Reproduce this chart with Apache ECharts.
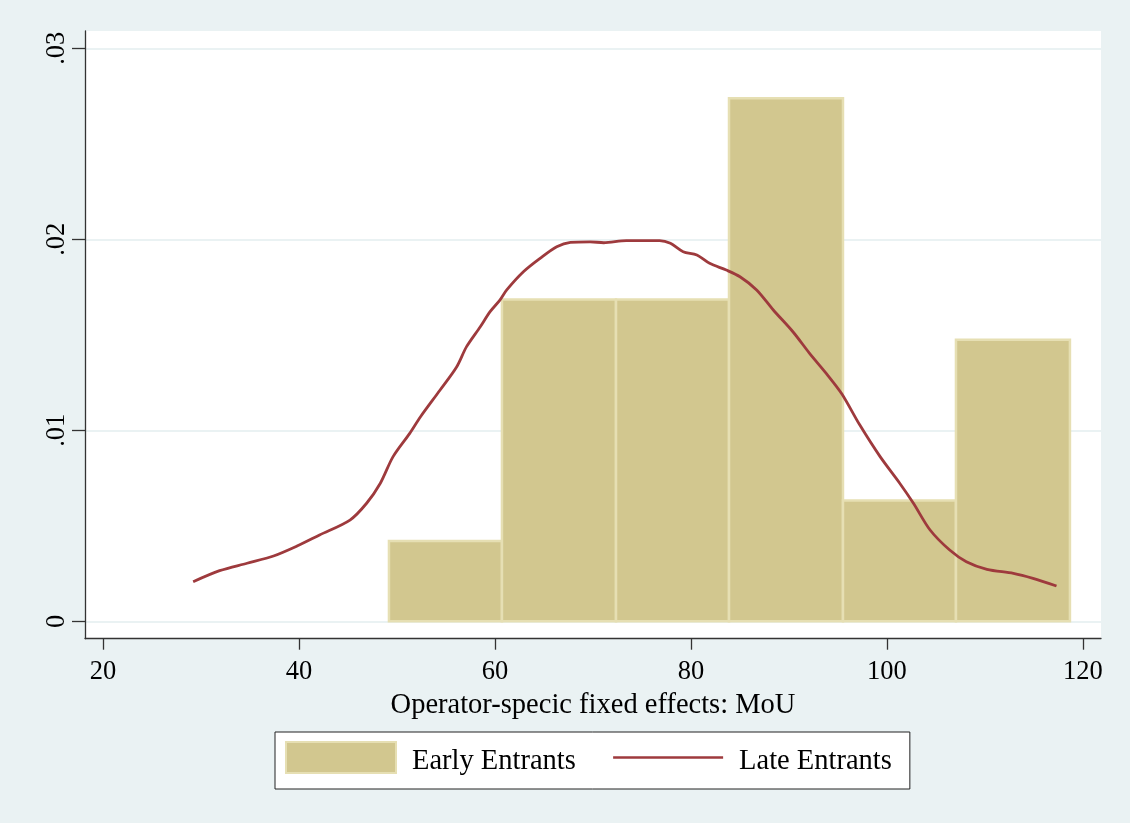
<!DOCTYPE html>
<html>
<head>
<meta charset="utf-8">
<script src="https://cdn.jsdelivr.net/npm/echarts@6/dist/echarts.min.js"></script>
<style>
  html, body { margin: 0; padding: 0; background: #eaf2f3; }
  #chart { width: 1130px; height: 823px; }
</style>
</head>
<body>
<div id="chart"></div>
<script>
// Histogram bins (Early Entrants): left edge, right edge, density
const binEdges = [49.18, 60.71, 72.35, 83.88, 95.51, 107.04, 118.67];
const binDensity = [0.00421, 0.01685, 0.01685, 0.02738, 0.00632, 0.01474];

// Kernel density (Late Entrants): x values and densities
const kdeX = [29.2, 31.9, 34.7, 37.4, 39.8, 42.1, 45.2, 46.9, 48.3, 49.6, 51.3, 52.4, 54.4, 56.1, 57.1, 58.5, 59.5, 60.5, 61.2, 62.9, 64.6, 66.3, 67.7, 69.7, 71.1, 73.4, 76.8, 77.9, 79.2, 80.6, 81.9, 83.6, 85.0, 86.7, 88.4, 90.4, 92.1, 93.8, 95.4, 97.2, 99.3, 101.3, 102.7, 104.4, 106.4, 108.1, 110.2, 112.9, 114.9, 117.3];
const kdeY = [0.00207, 0.00265, 0.00304, 0.00342, 0.00394, 0.00452, 0.0053, 0.00618, 0.00723, 0.00862, 0.00984, 0.01071, 0.01211, 0.01333, 0.01438, 0.01542, 0.01621, 0.01682, 0.01735, 0.0183, 0.019, 0.01961, 0.01984, 0.01987, 0.01982, 0.01993, 0.01993, 0.01979, 0.01935, 0.01918, 0.01874, 0.01839, 0.01804, 0.01735, 0.0163, 0.01516, 0.01403, 0.01298, 0.0119, 0.0103, 0.00862, 0.00723, 0.00618, 0.00478, 0.00373, 0.00312, 0.00272, 0.00251, 0.00225, 0.00185];

const xTicks = [20, 40, 60, 80, 100, 120];
const yTicks = [0, 0.01, 0.02, 0.03];
const yTickLabels = ['0', '.01', '.02', '.03'];

const barData = binDensity.map((d, i) => [binEdges[i], binEdges[i + 1], d]);
const lineData = kdeX.map((x, i) => [x, kdeY[i]]);

const FONT = '"Liberation Serif", "Times New Roman", serif';
const BAR_FILL = '#d2c78f';
const BAR_EDGE = '#e6dfb3';
const LINE_COLOR = '#9e3a3d';

const chart = echarts.init(document.getElementById('chart'), null, { renderer: 'canvas' });
chart.setOption({
  backgroundColor: '#eaf2f3',
  animation: false,
  textStyle: { fontFamily: FONT, color: '#000' },
  grid: {
    left: 85, right: 29, top: 31, bottom: 184.3,
    show: true, backgroundColor: '#ffffff', borderWidth: 0
  },
  xAxis: {
    type: 'value',
    min: 18.163, max: 121.84,
    name: 'Operator-specic fixed effects: MoU',
    nameLocation: 'middle',
    nameGap: 47,
    nameTextStyle: { fontFamily: FONT, fontSize: 28.5, color: '#000' },
    axisLine: { show: true, onZero: false, lineStyle: { color: '#333', width: 1.3 } },
    axisTick: { show: true, length: 11, customValues: xTicks, lineStyle: { color: '#333', width: 1.3 } },
    axisLabel: { customValues: xTicks, margin: 20, fontFamily: FONT, fontSize: 26.5, color: '#000' },
    splitLine: { show: false }
  },
  yAxis: {
    type: 'value',
    min: -0.000911, max: 0.030906,
    axisLine: { show: true, onZero: false, lineStyle: { color: '#333', width: 1.3 } },
    axisTick: { show: true, length: 13, customValues: yTicks, lineStyle: { color: '#333', width: 1.3 } },
    axisLabel: {
      customValues: yTicks, rotate: 90, margin: 14,
      fontFamily: FONT, fontSize: 26.5, color: '#000',
      formatter: function (v) {
        const i = yTicks.findIndex(t => Math.abs(t - v) < 1e-9);
        return i >= 0 ? yTickLabels[i] : '';
      }
    },
    splitLine: { show: true, lineStyle: { color: '#eaf2f3', width: 2 } }
  },
  legend: {
    left: 275, top: 732,
    orient: 'horizontal',
    backgroundColor: '#ffffff',
    borderColor: '#222', borderWidth: 1,
    padding: [9, 18, 13, 10],
    itemWidth: 110, itemHeight: 31, itemGap: 36,
    formatter: '{t|{name}}',
    textStyle: {
      fontFamily: FONT, fontSize: 28.5, color: '#000',
      rich: { t: { fontFamily: FONT, fontSize: 28.5, color: '#000', padding: [8, 0, 0, 11] } }
    },
    data: [
      { name: 'Early Entrants', icon: 'rect', itemStyle: { color: BAR_FILL, borderColor: BAR_EDGE, borderWidth: 2 } },
      { name: 'Late Entrants', itemStyle: { opacity: 0 }, lineStyle: { color: LINE_COLOR, width: 2.6, opacity: 1 } }
    ]
  },
  series: [
    {
      name: 'Early Entrants',
      type: 'custom',
      itemStyle: { color: BAR_FILL },
      encode: { x: [0, 1], y: 2 },
      data: barData,
      renderItem: function (params, api) {
        const x0 = api.value(0), x1 = api.value(1), h = api.value(2);
        const p0 = api.coord([x0, h]);
        const p1 = api.coord([x1, 0]);
        return {
          type: 'rect',
          shape: { x: p0[0], y: p0[1], width: p1[0] - p0[0], height: p1[1] - p0[1] },
          style: { fill: BAR_FILL, stroke: BAR_EDGE, lineWidth: 2.5 }
        };
      },
      z: 2
    },
    {
      name: 'Late Entrants',
      type: 'line',
      data: lineData,
      symbol: 'none',
      smooth: 0.3,
      lineStyle: { color: LINE_COLOR, width: 2.8 },
      itemStyle: { color: LINE_COLOR },
      z: 3
    }
  ]
});
</script>
</body>
</html>
